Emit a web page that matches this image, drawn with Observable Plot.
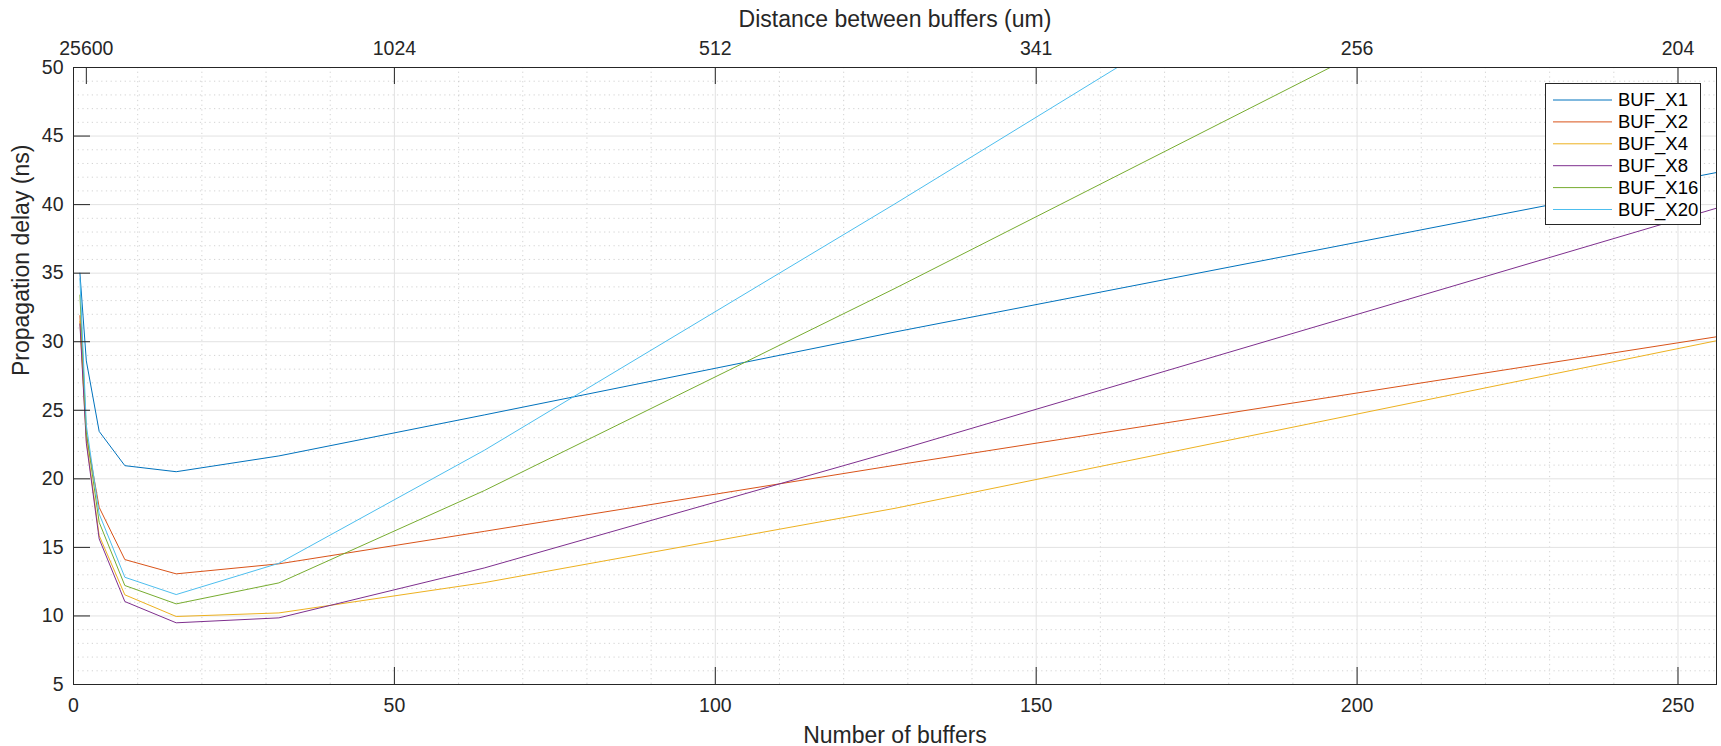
<!DOCTYPE html>
<html><head><meta charset="utf-8">
<script src="https://cdn.jsdelivr.net/npm/d3@7"></script>
<script src="https://cdn.jsdelivr.net/npm/@observablehq/plot@0.6"></script>
<style>body{margin:0;background:#fff;}</style>
</head><body><div id="chart"></div>
<script>
// ---- data ----
const nBuffers = [1, 2, 4, 8, 16, 32, 64, 128, 256];
const seriesNames = ["BUF_X1", "BUF_X2", "BUF_X4", "BUF_X8", "BUF_X16", "BUF_X20"];
const delayX1  = [35.0, 28.6, 23.46, 20.96, 20.52, 21.67, 24.66, 30.71, 42.34];
const delayX2  = [31.9, 23.2, 17.92, 14.11, 13.07, 13.80, 16.17, 20.99, 30.36];
const delayX4  = [31.5, 22.8, 15.86, 11.54,  9.96, 10.22, 12.43, 17.85, 30.07];
const delayX8  = [31.3, 22.6, 15.62, 11.05,  9.50,  9.86, 13.50, 22.03, 39.74];
const delayX16 = [33.4, 23.4, 16.83, 12.22, 10.88, 12.41, 19.14, 33.89, 64.3];
const delayX20 = [34.6, 23.9, 17.44, 12.82, 11.56, 13.84, 22.08, 40.06, 76.8];
const seriesColors = ["#0072BD", "#D95319", "#EDB120", "#7E2F8E", "#77AC30", "#4DBEEE"];
const xTicks = [0, 50, 100, 150, 200, 250];
const topTicks = [2, 50, 100, 150, 200, 250];
const yTicks = [5, 10, 15, 20, 25, 30, 35, 40, 45, 50];
const totalLength = 51200; // um; top label = totalLength / n
const xLabel = "Number of buffers";
const yLabel = "Propagation delay (ns)";
const topLabel = "Distance between buffers (um)";

const seriesValues = [delayX1, delayX2, delayX4, delayX8, delayX16, delayX20];
const rows = [];
seriesValues.forEach((vals, i) => vals.forEach((v, j) =>
  rows.push({series: seriesNames[i], n: nBuffers[j], delay: v})));

// ---- layout ----
const W = 1721, H = 746, mL = 73, mR = 5, mT = 67, mB = 62;
const frameH = H - mT - mB, frameW = W - mL - mR;
const tickLen = 17;
const ink = "#262626";
const font = "'Liberation Sans', Arial, Helvetica, sans-serif";
const tickFont = 19.5;

const minorX = d3.range(0, 257, 10).filter(d => d % 50 !== 0);
const minorY = d3.range(5, 51, 1).filter(d => d % 5 !== 0);

const chart = Plot.plot({
  width: W, height: H,
  marginLeft: mL, marginRight: mR, marginTop: mT, marginBottom: mB,
  style: {fontFamily: font, fontSize: "19.5px", color: ink, background: "#fff", overflow: "visible"},
  x: {domain: [0, 256]},
  y: {domain: [5, 50]},
  color: {domain: seriesNames, range: seriesColors},
  marks: [
    Plot.ruleX(minorX, {x: d => d, stroke: "#a8a8a8", strokeOpacity: 0.5, strokeDasharray: "1.2,3.5"}),
    Plot.ruleY(minorY, {y: d => d, stroke: "#a8a8a8", strokeOpacity: 0.5, strokeDasharray: "1.2,3.5"}),
    Plot.ruleX(xTicks.slice(1), {x: d => d, stroke: "#e2e2e2"}),
    Plot.ruleY(yTicks.slice(1, -1), {y: d => d, stroke: "#e2e2e2"}),
    Plot.line(rows, {x: "n", y: "delay", z: "series", stroke: "series", strokeWidth: 1, clip: true}),
    Plot.ruleX(xTicks, {x: d => d, insetTop: frameH - tickLen, stroke: ink}),
    Plot.ruleX(topTicks, {x: d => d, insetBottom: frameH - tickLen, stroke: ink}),
    Plot.ruleY(yTicks, {y: d => d, insetRight: frameW - tickLen, stroke: ink}),
    Plot.frame({stroke: ink}),
    Plot.axisX(xTicks, {anchor: "bottom", tickSize: 0, tickPadding: 14, label: null, fill: ink, fontSize: tickFont}),
    Plot.axisX(topTicks, {anchor: "top", tickSize: 0, tickPadding: 13, label: null, fill: ink, fontSize: tickFont,
      tickFormat: d => String(Math.floor(totalLength / d))}),
    Plot.axisY(yTicks, {anchor: "left", tickSize: 0, tickPadding: 10, label: null, fill: ink, fontSize: tickFont}),
    Plot.text([xLabel], {text: d => d, frameAnchor: "bottom", dy: 58, lineAnchor: "bottom", fontSize: 23, fill: ink}),
    Plot.text([topLabel], {text: d => d, frameAnchor: "top", dy: -41, lineAnchor: "bottom", fontSize: 23, fill: ink}),
    Plot.text([yLabel], {text: d => d, frameAnchor: "left", dx: -45, rotate: -90, lineAnchor: "bottom", fontSize: 23, fill: ink})
  ]
});
document.getElementById("chart").appendChild(chart);

// ---- legend (inside plot, top-right) ----
const svg = d3.select(chart);
const lg = svg.append("g").attr("font-family", font).attr("font-size", 18.5).attr("text-anchor", "start");
const boxX = 1545, boxY = 83, boxW = 155, boxH = 141, rowH = 21.9, firstRow = 100;
lg.append("rect").attr("x", boxX + 0.5).attr("y", boxY + 0.5).attr("width", boxW).attr("height", boxH)
  .attr("fill", "#fff").attr("stroke", ink);
seriesNames.forEach((name, i) => {
  const y = firstRow + i * rowH;
  lg.append("line").attr("x1", boxX + 8).attr("x2", boxX + 67).attr("y1", y).attr("y2", y)
    .attr("stroke", seriesColors[i]).attr("stroke-width", 1);
  lg.append("text").attr("x", boxX + 73).attr("y", y).attr("dy", "0.35em")
    .attr("text-anchor", "start").attr("fill", "#000").text(name);
});
</script>
</body></html>
